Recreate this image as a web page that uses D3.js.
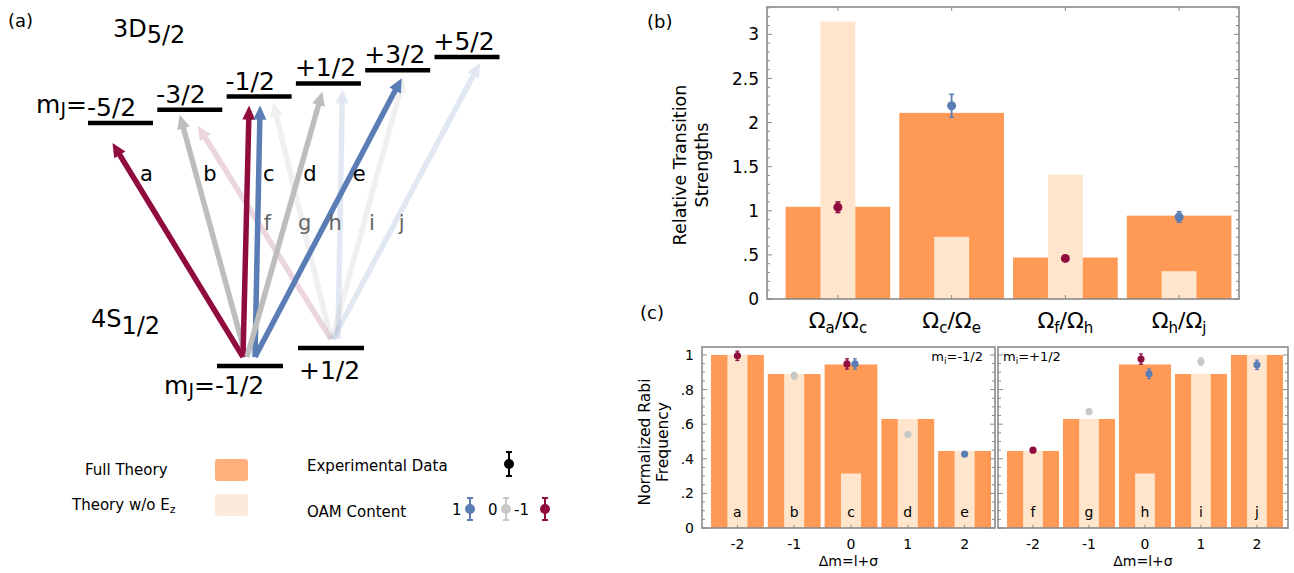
<!DOCTYPE html>
<html>
<head>
<meta charset="utf-8">
<script src="https://cdn.jsdelivr.net/npm/d3@7"></script>
<style>
  body { margin: 0; background: #fff; }
  text { font-family: "DejaVu Sans", sans-serif; }
</style>
</head>
<body>
<svg id="fig" width="1294" height="573"></svg>
<script>
// ---- data ----
const ratioNames = [["a", "c"], ["c", "e"], ["f", "h"], ["h", "j"]];
const ratioFull = [1.045, 2.11, 0.47, 0.945];
const ratioNoEz = [3.145, 0.705, 1.41, 0.315];
const ratioExp = [1.04, 2.19, 0.46, 0.93];
const ratioErr = [0.06, 0.13, 0.02, 0.06];
const ratioOam = [-1, 1, -1, 1];

const dmTicks = [-2, -1, 0, 1, 2];
const lowLetters = ["a", "b", "c", "d", "e"];
const highLetters = ["f", "g", "h", "i", "j"];
const lowFull = [1.0, 0.89, 0.945, 0.63, 0.445];
const lowNoEz = [1.0, 0.89, 0.315, 0.63, 0.445];
const highFull = [0.445, 0.63, 0.945, 0.89, 1.0];
const highNoEz = [0.445, 0.63, 0.315, 0.89, 1.0];
// [bar, oam, value, error]
const lowExp = [[0, -1, 0.995, 0.027], [1, 0, 0.88, 0.02], [2, -1, 0.948, 0.03], [2, 1, 0.948, 0.03], [3, 0, 0.541, 0.01], [4, 1, 0.427, 0.01]];
const highExp = [[0, -1, 0.45, 0.01], [1, 0, 0.672, 0.015], [2, -1, 0.976, 0.03], [2, 1, 0.891, 0.028], [3, 0, 0.962, 0.022], [4, 1, 0.943, 0.027]];

const excitedM = [-2.5, -1.5, -0.5, 0.5, 1.5, 2.5];
const excitedLabels = ["-5/2", "-3/2", "-1/2", "+1/2", "+3/2", "+5/2"];
const groundM = [-0.5, 0.5];
// label, ground mJ, excited mJ, oam, faint
const transitions = [
  ["f", 0.5, -1.5, -1, true], ["g", 0.5, -0.5, 0, true], ["h", 0.5, 0.5, 1, true],
  ["i", 0.5, 1.5, 0, true], ["j", 0.5, 2.5, 1, true],
  ["a", -0.5, -2.5, -1, false], ["b", -0.5, -1.5, 0, false], ["c", -0.5, -0.5, -1, false],
  ["c", -0.5, -0.5, 1, false], ["d", -0.5, 0.5, 0, false], ["e", -0.5, 1.5, 1, false]
];

const ORANGE = "#fe9a56", LIGHT = "#fee5cc";
const oamColor = { "-1": "#900c3f", "0": "#c8c8c8", "1": "#5b7db5" };
const arrowColor = { "-1": "#900c3f", "0": "#bdbdbd", "1": "#5b7db5" };
const FRAME = "#8a8a8a";

const svg = d3.select("#fig");

// ---------------- panel (a) ----------------
const ga = svg.append("g");
ga.append("text").attr("x", 8).attr("y", 27).attr("font-size", 18).text("(a)");

const xEx = d3.scaleLinear().domain([-2.5, 2.5]).range([120.5, 467]);
const yEx = d3.scaleLinear().domain([-2.5, 2.5]).range([123, 57]);
const xGr = d3.scaleLinear().domain([-0.5, 0.5]).range([250, 331]);
const yGr = d3.scaleLinear().domain([-0.5, 0.5]).range([366, 348]);
const LW = 65;

// 3D5/2 title
const t3d = ga.append("text").attr("x", 113).attr("y", 37).attr("font-size", 24);
t3d.append("tspan").text("3D");
t3d.append("tspan").attr("dy", 6).text("5/2");

const t4s = ga.append("text").attr("x", 91).attr("y", 327).attr("font-size", 24);
t4s.append("tspan").text("4S");
t4s.append("tspan").attr("dy", 7).text("1/2");

// arrow layout tweaks (tail dx, tip dx, tip pad below level)
const tailDx = { f: 0, g: 0, h: 7, i: 1, j: 2, a: -7, b: -4, c0: -7, c1: 5, d: -3, e: 5 };
const tipDx = { f: 8, g: 14, h: 14, i: 6, j: 13, a: -8, b: -10, c0: -10, c1: 1, d: -6, e: 4 };
const tipPad = { f: 16, g: 6, h: 6, i: 8, j: 6, a: 20, b: 5, c0: 9, c1: 9, d: 8, e: 8 };

function drawArrow(g, x1, y1, x2, y2, color, op) {
  const dx = x2 - x1, dy = y2 - y1, L = Math.hypot(dx, dy), ux = dx / L, uy = dy / L;
  const hl = 14, hw = 6.5;
  const bx = x2 - ux * hl, by = y2 - uy * hl;
  const a = g.append("g").attr("opacity", op);
  a.append("line").attr("x1", x1).attr("y1", y1).attr("x2", bx + ux * 2).attr("y2", by + uy * 2)
    .attr("stroke", color).attr("stroke-width", 5.5);
  a.append("path")
    .attr("d", `M${x2},${y2}L${bx - uy * hw},${by + ux * hw}L${bx + uy * hw},${by - ux * hw}Z`)
    .attr("fill", color);
}

const arrowPos = {};
transitions.forEach(t => {
  const [lab, mg, me, oam, faint] = t;
  const key = lab === "c" ? (oam < 0 ? "c0" : "c1") : lab;
  const x1 = xGr(mg) + tailDx[key], y1 = yGr(mg) - 9;
  const x2 = xEx(me) + tipDx[key], y2 = yEx(me) + tipPad[key];
  arrowPos[key] = [x1, y1, x2, y2];
  drawArrow(ga, x1, y1, x2, y2, arrowColor[oam], faint ? (oam === 0 ? 0.22 : 0.17) : 1);
});

// arrow letters, placed beside their arrows
function xAt(p, y) { return p[0] + (p[2] - p[0]) * (y - p[1]) / (p[3] - p[1]); }
const letterSpots = [
  ["a", "a", 15], ["b", "b", 14], ["c", "c1", 10], ["d", "d", 11], ["e", "e", 8],
  ["f", "f", 9], ["g", "g", 2], ["h", "h", -5], ["i", "i", 8], ["j", "j", 7]
];
letterSpots.forEach(([lab, key, off], i) => {
  const y = i < 5 ? 181 : 230;
  ga.append("text").attr("x", xAt(arrowPos[key], y - 7) + off).attr("y", y)
    .attr("text-anchor", "middle").attr("font-size", 21)
    .attr("fill", i < 5 ? "#000" : "#666").text(lab);
});

// levels
excitedM.forEach((m, i) => {
  ga.append("line").attr("x1", xEx(m) - LW / 2).attr("x2", xEx(m) + LW / 2)
    .attr("y1", yEx(m)).attr("y2", yEx(m)).attr("stroke", "#000").attr("stroke-width", 4.5);
  ga.append("text").attr("x", xEx(m) - LW / 2 - 1).attr("y", yEx(m) - 7)
    .attr("font-size", 25).text(excitedLabels[i]);
});
const mj = ga.append("text").attr("x", xEx(-2.5) - LW / 2 - 1).attr("y", yEx(-2.5) - 10)
  .attr("text-anchor", "end").attr("font-size", 25);
mj.append("tspan").text("m");
mj.append("tspan").attr("font-size", 19).attr("dy", 3).text("J");
mj.append("tspan").attr("dy", -3).text("=");

groundM.forEach(m => {
  ga.append("line").attr("x1", xGr(m) - 33).attr("x2", xGr(m) + 33)
    .attr("y1", yGr(m)).attr("y2", yGr(m)).attr("stroke", "#000").attr("stroke-width", 4.5);
});
ga.append("text").attr("x", xGr(0.5) - 32).attr("y", yGr(0.5) + 31).attr("font-size", 25).text("+1/2");
ga.append("text").attr("x", xGr(-0.5) - 35).attr("y", yGr(-0.5) + 28).attr("font-size", 25).text("-1/2");
const mj2 = ga.append("text").attr("x", xGr(-0.5) - 35).attr("y", yGr(-0.5) + 28)
  .attr("text-anchor", "end").attr("font-size", 25);
mj2.append("tspan").text("m");
mj2.append("tspan").attr("font-size", 19).attr("dy", 3).text("J");
mj2.append("tspan").attr("dy", -3).text("=");

// legend
function errPoint(g, x, y, color, r, h) {
  g.append("line").attr("x1", x).attr("x2", x).attr("y1", y - h).attr("y2", y + h)
    .attr("stroke", color).attr("stroke-width", 2);
  [y - h, y + h].forEach(yy => g.append("line").attr("x1", x - 3).attr("x2", x + 3)
    .attr("y1", yy).attr("y2", yy).attr("stroke", color).attr("stroke-width", 2));
  g.append("circle").attr("cx", x).attr("cy", y).attr("r", r).attr("fill", color);
}
ga.append("text").attr("x", 85).attr("y", 475).attr("font-size", 15).text("Full Theory");
ga.append("rect").attr("x", 215).attr("y", 459).attr("width", 33).attr("height", 22).attr("rx", 3)
  .attr("fill", "#ffb07c");
const tw = ga.append("text").attr("x", 72).attr("y", 510).attr("font-size", 15);
tw.append("tspan").text("Theory w/o E");
tw.append("tspan").attr("font-size", 11).attr("dy", 3).text("z");
ga.append("rect").attr("x", 215).attr("y", 494).attr("width", 33).attr("height", 22).attr("rx", 3)
  .attr("fill", "#feeadb");
ga.append("text").attr("x", 307).attr("y", 471).attr("font-size", 15).text("Experimental Data");
errPoint(ga, 509, 464, "#000", 5, 12);
ga.append("text").attr("x", 307).attr("y", 517).attr("font-size", 15).text("OAM Content");
[[1, 452, 470], [0, 488, 506], [-1, 514, 545]].forEach(([o, tx, px]) => {
  ga.append("text").attr("x", tx).attr("y", 515).attr("font-size", 15).text(String(o));
  errPoint(ga, px, 509, oamColor[o], 5, 11);
});

// ---------------- panel (b) ----------------
const gb = svg.append("g");
gb.append("text").attr("x", 647).attr("y", 28).attr("font-size", 18).text("(b)");
const bL = 767, bR = 1239, bT = 7, bB = 299;
const xb = d3.scaleBand().domain(d3.range(4)).range([781, 1236]).paddingInner(0.08).paddingOuter(0.04);
const yb = d3.scaleLinear().domain([0, 3.31]).range([bB, bT]);

gb.selectAll(".full").data(ratioFull).enter().append("rect")
  .attr("x", (d, i) => xb(i)).attr("width", xb.bandwidth())
  .attr("y", d => yb(d)).attr("height", d => bB - yb(d)).attr("fill", ORANGE);
gb.selectAll(".noez").data(ratioNoEz).enter().append("rect")
  .attr("x", (d, i) => xb(i) + xb.bandwidth() / 3).attr("width", xb.bandwidth() / 3)
  .attr("y", d => yb(d)).attr("height", d => bB - yb(d)).attr("fill", LIGHT);

function frameTicks(g, x0, x1, y0, y1, y, major, minor, labels, fmt, fs) {
  g.append("rect").attr("x", x0).attr("y", y0).attr("width", x1 - x0).attr("height", y1 - y0)
    .attr("fill", "none").attr("stroke", FRAME).attr("stroke-width", 1.6);
  const [lo, hi] = y.domain();
  const n = Math.floor(hi / minor + 1e-6);
  for (let k = 0; k <= n; k++) {
    const v = k * minor;
    const isMaj = Math.abs(v / major - Math.round(v / major)) < 1e-6;
    const len = isMaj ? 5 : 3;
    g.append("line").attr("x1", x0).attr("x2", x0 + len).attr("y1", y(v)).attr("y2", y(v))
      .attr("stroke", FRAME).attr("stroke-width", 1);
    g.append("line").attr("x1", x1).attr("x2", x1 - len).attr("y1", y(v)).attr("y2", y(v))
      .attr("stroke", FRAME).attr("stroke-width", 1);
    if (isMaj && labels) {
      g.append("text").attr("x", x0 - 8).attr("y", y(v)).attr("dy", "0.36em")
        .attr("text-anchor", "end").attr("font-size", fs).text(fmt(v));
    }
  }
}
const fmtDot = v => {
  const r = Math.round(v * 100) / 100;
  return r === 0 ? "0" : String(r).replace(/^0\./, ".");
};
frameTicks(gb, bL, bR, bT, bB, yb, 0.5, 0.1, true, fmtDot, 17);
d3.range(4).forEach(i => {
  const cx = xb(i) + xb.bandwidth() / 2;
  gb.append("line").attr("x1", cx).attr("x2", cx).attr("y1", bB).attr("y2", bB - 4).attr("stroke", FRAME);
  gb.append("line").attr("x1", cx).attr("x2", cx).attr("y1", bT).attr("y2", bT + 4).attr("stroke", FRAME);
  const t = gb.append("text").attr("x", cx).attr("y", 328).attr("text-anchor", "middle").attr("font-size", 22);
  t.append("tspan").text("\u03A9");
  t.append("tspan").attr("font-size", 15).attr("dy", 5).text(ratioNames[i][0]);
  t.append("tspan").attr("dy", -5).text("/\u03A9");
  t.append("tspan").attr("font-size", 15).attr("dy", 5).text(ratioNames[i][1]);
});
ratioExp.forEach((v, i) => {
  const cx = xb(i) + xb.bandwidth() / 2;
  const c = oamColor[ratioOam[i]];
  const e = Math.max(yb(0) - yb(ratioErr[i]), 0);
  gb.append("line").attr("x1", cx).attr("x2", cx).attr("y1", yb(v) - e).attr("y2", yb(v) + e)
    .attr("stroke", c).attr("stroke-width", 1.8);
  [yb(v) - e, yb(v) + e].forEach(yy => gb.append("line").attr("x1", cx - 2.5).attr("x2", cx + 2.5)
    .attr("y1", yy).attr("y2", yy).attr("stroke", c).attr("stroke-width", 1.5));
  gb.append("circle").attr("cx", cx).attr("cy", yb(v)).attr("r", 4.5).attr("fill", c);
});
const yt = gb.append("text").attr("transform", "translate(686,165) rotate(-90)")
  .attr("text-anchor", "middle").attr("font-size", 17.5);
yt.append("tspan").attr("x", 0).attr("dy", 0).text("Relative Transition");
yt.append("tspan").attr("x", 0).attr("dy", 22).text("Strengths");

// ---------------- panel (c) ----------------
const gc = svg.append("g");
gc.append("text").attr("x", 640).attr("y", 319).attr("font-size", 18).text("(c)");
const cT = 347, cB = 528;
const yc = d3.scaleLinear().domain([0, 1.046]).range([cB, cT]);

function subPanel(x0, x1, bx0, bx1, full, noez, exp, letters, labelsOn, mi, miRight) {
  const g = gc.append("g");
  const xs = d3.scaleBand().domain(d3.range(5)).range([bx0, bx1]).paddingInner(0.07).paddingOuter(0);
  const bw = xs.bandwidth();
  g.selectAll(".f").data(full).enter().append("rect")
    .attr("x", (d, i) => xs(i)).attr("width", bw)
    .attr("y", d => yc(d)).attr("height", d => cB - yc(d)).attr("fill", ORANGE);
  g.selectAll(".n").data(noez).enter().append("rect")
    .attr("x", (d, i) => xs(i) + bw * 0.31).attr("width", bw * 0.38)
    .attr("y", d => yc(d)).attr("height", d => cB - yc(d)).attr("fill", LIGHT);
  frameTicks(g, x0, x1, cT, cB, yc, 0.2, 0.05, labelsOn, fmtDot, 14);
  letters.forEach((l, i) => {
    const cx = xs(i) + bw / 2;
    g.append("text").attr("x", cx).attr("y", 517).attr("text-anchor", "middle").attr("font-size", 14).text(l);
    g.append("text").attr("x", cx).attr("y", 549).attr("text-anchor", "middle").attr("font-size", 14).text(dmTicks[i]);
    g.append("line").attr("x1", cx).attr("x2", cx).attr("y1", cB).attr("y2", cB - 3).attr("stroke", FRAME);
  });
  exp.forEach(([b, o, v, e]) => {
    const pair = exp.filter(p => p[0] === b).length > 1;
    const cx = xs(b) + bw / 2 + (pair ? (o < 0 ? -4 : 4) : 0);
    const c = oamColor[o];
    const h = yc(0) - yc(e);
    g.append("line").attr("x1", cx).attr("x2", cx).attr("y1", yc(v) - h).attr("y2", yc(v) + h)
      .attr("stroke", c).attr("stroke-width", 1.5);
    [yc(v) - h, yc(v) + h].forEach(yy => g.append("line").attr("x1", cx - 2).attr("x2", cx + 2)
      .attr("y1", yy).attr("y2", yy).attr("stroke", c).attr("stroke-width", 1.2));
    g.append("circle").attr("cx", cx).attr("cy", yc(v)).attr("r", 3.6).attr("fill", c);
  });
  g.append("text").attr("x", (x0 + x1) / 2).attr("y", 566).attr("text-anchor", "middle")
    .attr("font-size", 14).text("\u0394m=l+\u03C3");
  const mt = g.append("text").attr("x", miRight ? x1 - 12 : x0 + 5).attr("y", 361)
    .attr("text-anchor", miRight ? "end" : "start").attr("font-size", 13);
  mt.append("tspan").text("m");
  mt.append("tspan").attr("font-size", 9).attr("dy", 3).text("i");
  mt.append("tspan").attr("dy", -3).text("=" + mi);
}
subPanel(702, 995, 711, 991, lowFull, lowNoEz, lowExp, lowLetters, true, "-1/2", true);
subPanel(998, 1288, 1007, 1283, highFull, highNoEz, highExp, highLetters, false, "+1/2", false);

const yc2 = gc.append("text").attr("transform", "translate(650,442) rotate(-90)")
  .attr("text-anchor", "middle").attr("font-size", 15.5);
yc2.append("tspan").attr("x", 0).attr("dy", 0).text("Normalized Rabi");
yc2.append("tspan").attr("x", 0).attr("dy", 18).text("Frequency");
</script>
</body>
</html>
